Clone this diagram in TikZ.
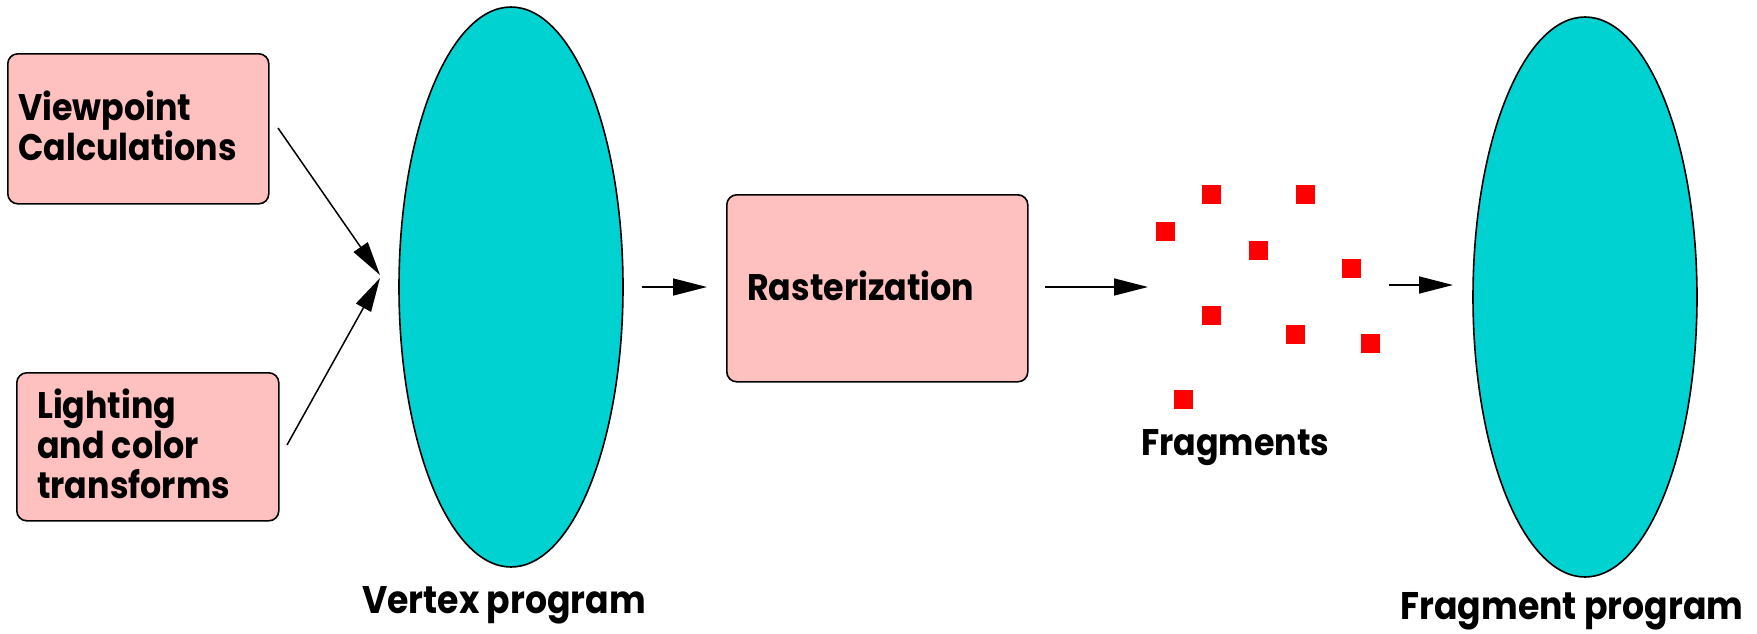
\documentclass[tikz,border=0pt]{standalone}
\usepackage{fontspec}
\setmainfont{Poppins}[FakeStretch=0.9]
\usetikzlibrary{shapes.geometric,arrows.meta}
\definecolor{boxpink}{RGB}{255,192,192}
\definecolor{progcyan}{RGB}{0,209,209}
\definecolor{fragred}{RGB}{255,0,0}
\begin{document}
\begin{tikzpicture}[x=1pt,y=-1pt,
  stagebox/.style={draw=black,line width=1.6pt,fill=boxpink,rounded corners=10pt,
    inner sep=0pt,anchor=north west},
  boxtext/.style={anchor=base west,inner sep=0pt,align=left,
    font=\fontsize{37}{40}\selectfont\bfseries},
  proglabel/.style={anchor=base,inner sep=0pt,font=\fontsize{38.5}{44}\selectfont\bfseries},
  program/.style={ellipse,draw=black,line width=1.6pt,fill=progcyan,inner sep=0pt,
    minimum width=224pt,minimum height=560pt},
  frag/.style={fill=fragred,draw=none,inner sep=0pt,minimum size=19pt,anchor=north west},
  flow/.style={line width=1.5pt,-{Triangle[length=34pt,width=17pt]}}]
\useasboundingbox (0,0) rectangle (1757,633);

% input stages (multi-line texts are placed by the baseline of their last line)
\node[stagebox,minimum width=261pt,minimum height=150pt] (view) at (7,53) {};
\node[boxtext] (viewtxt) at (18,160) {Viewpoint\\Calculations};
\node[stagebox,minimum width=262pt,minimum height=148pt] (light) at (16,372) {};
\node[boxtext] (lighttxt) at (37,498) {Lighting\\and color\\transforms};

% vertex program
\node[program] (vertex) at (511,287) {};
\node[proglabel] (vertexlbl) at (504,613) {Vertex program};

% rasterization
\node[stagebox,minimum width=301pt,minimum height=187pt] (raster) at (726,194) {};
\node[boxtext] (rastertxt) at (747,300) {Rasterization};

% fragments
\node[frag] (f1) at (1202,185) {};
\node[frag] (f2) at (1296,185) {};
\node[frag] (f3) at (1156,222) {};
\node[frag] (f4) at (1249,241) {};
\node[frag] (f5) at (1342,259) {};
\node[frag] (f6) at (1202,306) {};
\node[frag] (f7) at (1286,325) {};
\node[frag] (f8) at (1361,334) {};
\node[frag] (f9) at (1174,390) {};
\node[boxtext] (fraglbl) at (1141,455) {Fragments};

% fragment program
\node[program] (fragprog) at (1585,297) {};
\node[proglabel] (fraglbl2) at (1572,619) {Fragment program};

% connectors
\coordinate (a1s) at (278,128);
\coordinate (a1e) at (380,275);
\coordinate (a2s) at (287,445);
\coordinate (a2e) at (380,278);
\coordinate (a3s) at (642,287);
\coordinate (a3e) at (707,287);
\coordinate (a4s) at (1045,287);
\coordinate (a4e) at (1148,287);
\coordinate (a5s) at (1389,285);
\coordinate (a5e) at (1453,285);
\draw[flow] (a1s) -- (a1e);
\draw[flow] (a2s) -- (a2e);
\draw[flow] (a3s) -- (a3e);
\draw[flow] (a4s) -- (a4e);
\draw[flow] (a5s) -- (a5e);
\end{tikzpicture}
\end{document}
